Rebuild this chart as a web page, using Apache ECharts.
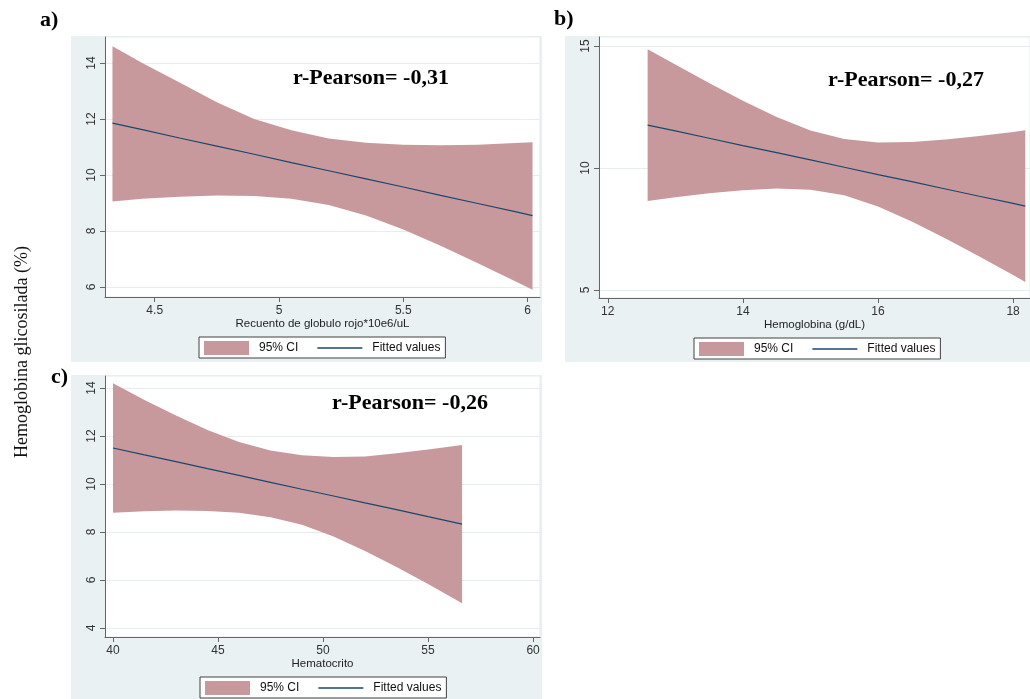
<!DOCTYPE html>
<html><head><meta charset="utf-8">
<script src="https://cdn.jsdelivr.net/npm/echarts@6/dist/echarts.min.js"></script>
<style>html,body{margin:0;padding:0;background:#fff}#c{width:1030px;height:699px}</style>
</head><body><div id="c"></div>
<script>
// ---- Panel a: Recuento de globulo rojo ----
const xA   = [4.33, 4.45, 4.6, 4.75, 4.9, 5.05, 5.2, 5.35, 5.5, 5.65, 5.8, 5.95, 6.02];
const upA  = [14.6, 14.0, 13.3, 12.6, 12.0, 11.6, 11.3, 11.15, 11.08, 11.06, 11.08, 11.14, 11.17];
const loA  = [9.05, 9.15, 9.22, 9.27, 9.25, 9.15, 8.93, 8.55, 8.05, 7.47, 6.85, 6.2, 5.9];
const fitA = [11.85, 11.62, 11.32, 11.03, 10.74, 10.44, 10.15, 9.86, 9.57, 9.27, 8.98, 8.69, 8.55];
const xTicksA = [4.5, 5, 5.5, 6];
const yTicksA = [6, 8, 10, 12, 14];

// ---- Panel b: Hemoglobina ----
const xB   = [12.59, 13.0, 13.5, 14.0, 14.5, 15.0, 15.5, 16.0, 16.5, 17.0, 17.5, 18.0, 18.18];
const upB  = [14.87, 14.24, 13.48, 12.76, 12.09, 11.54, 11.19, 11.05, 11.07, 11.17, 11.31, 11.48, 11.55];
const loB  = [8.65, 8.80, 8.96, 9.09, 9.16, 9.11, 8.88, 8.42, 7.81, 7.11, 6.37, 5.61, 5.33];
const fitB = [11.76, 11.52, 11.22, 10.92, 10.63, 10.33, 10.03, 9.73, 9.44, 9.14, 8.84, 8.55, 8.44];
const xTicksB = [12, 14, 16, 18];
const yTicksB = [5, 10, 15];

// ---- Panel c: Hematocrito ----
const xC   = [40, 41.5, 43, 44.5, 46, 47.5, 49, 50.5, 52, 53.5, 55, 56.62];
const upC  = [14.2, 13.5, 12.85, 12.25, 11.75, 11.4, 11.2, 11.12, 11.15, 11.28, 11.44, 11.63];
const loC  = [8.8, 8.86, 8.9, 8.88, 8.8, 8.61, 8.3, 7.81, 7.21, 6.54, 5.83, 5.03];
const fitC = [11.5, 11.21, 10.93, 10.64, 10.36, 10.07, 9.78, 9.50, 9.21, 8.93, 8.64, 8.33];
const xTicksC = [40, 45, 50, 55, 60];
const yTicksC = [4, 6, 8, 10, 12, 14];

const xNames = ['Recuento de globulo rojo*10e6/uL', 'Hemoglobina (g/dL)', 'Hematocrito'];
const rTexts = ['r-Pearson= -0,31', 'r-Pearson= -0,27', 'r-Pearson= -0,26'];
const panelLabels = ['a)', 'b)', 'c)'];
const yTitle = 'Hemoglobina glicosilada (%)';
const ciName = '95% CI';
const fitName = 'Fitted values';

const BAND = '#c8999c';
const LINE = '#1a476f';
const BG = '#eaf1f3';
const AX = '#666666';
const SANS = '"Liberation Sans", Arial, sans-serif';
const SERIF = '"Liberation Serif", "Times New Roman", serif';

function band(xs, up, lo, idx) {
  return {
    type: 'custom', name: ciName, xAxisIndex: idx, yAxisIndex: idx,
    itemStyle: { color: BAND },
    data: [[xs[0], up[0]]],
    clip: true,
    renderItem: function (params, api) {
      const pts = [];
      for (let i = 0; i < xs.length; i++) pts.push(api.coord([xs[i], up[i]]));
      for (let i = xs.length - 1; i >= 0; i--) pts.push(api.coord([xs[i], lo[i]]));
      return { type: 'polygon', shape: { points: pts }, style: { fill: BAND } };
    },
    z: 2
  };
}
function fit(xs, ys, idx) {
  return {
    type: 'line', name: fitName, xAxisIndex: idx, yAxisIndex: idx,
    data: xs.map((x, i) => [x, ys[i]]),
    symbol: 'none', lineStyle: { color: LINE, width: 1.2 }, itemStyle: { color: LINE },
    z: 3, animation: false
  };
}
function xAx(i, min, max, split, ticks, name) {
  return {
    type: 'value', gridIndex: i, min: min, max: max, splitNumber: split,
    axisLine: { show: true, onZero: false, lineStyle: { color: AX, width: 1 } },
    axisTick: { show: true, length: 5, lineStyle: { color: AX }, customValues: ticks },
    axisLabel: { customValues: ticks, margin: 8, fontSize: 12, color: '#333', fontFamily: SANS },
    splitLine: { show: false },
    name: name, nameLocation: 'middle', nameGap: 20,
    nameTextStyle: { fontSize: 11.5, color: '#222', fontFamily: SANS }
  };
}
function yAx(i, min, max, split, ticks) {
  return {
    type: 'value', gridIndex: i, min: min, max: max, splitNumber: split,
    axisLine: { show: true, onZero: false, lineStyle: { color: AX, width: 1 } },
    axisTick: { show: true, length: 5, lineStyle: { color: AX }, customValues: ticks },
    axisLabel: { customValues: ticks, margin: 7, rotate: 90, fontSize: 12, color: '#333', fontFamily: SANS },
    splitLine: { show: true, lineStyle: { color: '#e4edf0', width: 1 } }
  };
}
function leg(left, top) {
  return {
    left: left, top: top, orient: 'horizontal', selectedMode: false,
    itemWidth: 45, itemHeight: 14, itemGap: 19, symbolKeepAspect: true,
    padding: [4, 5, 3, 5], borderColor: '#404040', borderWidth: 1, backgroundColor: '#fff',
    textStyle: { fontFamily: SANS, fontSize: 12, color: '#111', padding: [0, 0, 0, 5] },
    data: [
      { name: ciName, icon: 'rect' },
      { name: fitName, icon: 'path://M0,0H45V1.6H0Z', itemStyle: { color: LINE } }
    ]
  };
}

const chart = echarts.init(document.getElementById('c'), null, { renderer: 'canvas' });
const gridStyle = { show: true, backgroundColor: '#fff', borderColor: '#e3ebee', borderWidth: 1 };
chart.setOption({
  animation: false,
  backgroundColor: '#fff',
  grid: [
    Object.assign({ left: 105, right: 490, top: 37, bottom: 402 }, gridStyle),
    Object.assign({ left: 599, right: 0, top: 37, bottom: 401 }, gridStyle),
    Object.assign({ left: 105, right: 490, top: 376, bottom: 62 }, gridStyle)
  ],
  xAxis: [
    xAx(0, 4.30, 6.05, 4, xTicksA, xNames[0]),
    xAx(1, 11.87, 18.25, 3, xTicksB, xNames[1]),
    xAx(2, 39.62, 60.33, 4, xTicksC, xNames[2])
  ],
  yAxis: [
    yAx(0, 5.64, 14.93, 5, yTicksA),
    yAx(1, 4.67, 15.37, 2, yTicksB),
    yAx(2, 3.625, 14.5, 5, yTicksC)
  ],
  legend: [leg(199, 337), leg(694, 338), leg(200, 677)],
  series: [
    band(xA, upA, loA, 0), fit(xA, fitA, 0),
    band(xB, upB, loB, 1), fit(xB, fitB, 1),
    band(xC, upC, loC, 2), fit(xC, fitC, 2)
  ],
  graphic: [
    { type: 'rect', z: -10, shape: { x: 71, y: 36, width: 471, height: 326 }, style: { fill: BG } },
    { type: 'rect', z: -10, shape: { x: 565, y: 36, width: 465, height: 326 }, style: { fill: BG } },
    { type: 'rect', z: -10, shape: { x: 71, y: 375, width: 471, height: 324 }, style: { fill: BG } },
    { type: 'text', x: 40, y: 20, z: 10, style: { text: panelLabels[0], font: 'bold 22px ' + SERIF, fill: '#000', verticalAlign: 'middle' } },
    { type: 'text', x: 554, y: 19, z: 10, style: { text: panelLabels[1], font: 'bold 22px ' + SERIF, fill: '#000', verticalAlign: 'middle' } },
    { type: 'text', x: 51, y: 377, z: 10, style: { text: panelLabels[2], font: 'bold 22px ' + SERIF, fill: '#000', verticalAlign: 'middle' } },
    { type: 'text', x: 371, y: 78, z: 10, style: { text: rTexts[0], font: 'bold 22px ' + SERIF, fill: '#000', align: 'center', verticalAlign: 'middle' } },
    { type: 'text', x: 906, y: 80, z: 10, style: { text: rTexts[1], font: 'bold 22px ' + SERIF, fill: '#000', align: 'center', verticalAlign: 'middle' } },
    { type: 'text', x: 410, y: 403, z: 10, style: { text: rTexts[2], font: 'bold 22px ' + SERIF, fill: '#000', align: 'center', verticalAlign: 'middle' } },
    { type: 'text', x: 22, y: 352, rotation: Math.PI / 2, z: 10, style: { text: yTitle, font: '18px ' + SERIF, fill: '#111', align: 'center', verticalAlign: 'middle' } }
  ]
});
</script>
</body></html>
